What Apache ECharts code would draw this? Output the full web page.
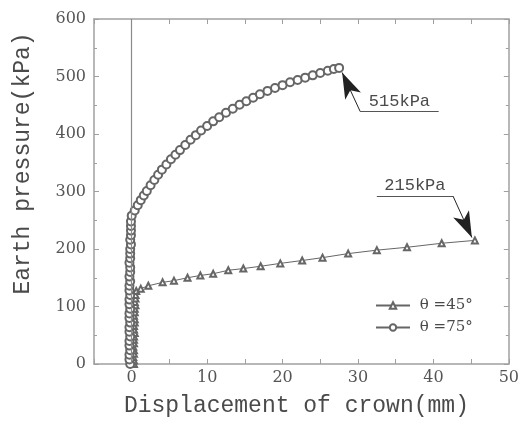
<!DOCTYPE html>
<html>
<head>
<meta charset="utf-8">
<script src="https://cdn.jsdelivr.net/npm/echarts@6/dist/echarts.min.js"></script>
<style>
html,body{margin:0;padding:0;background:#fff;}
#chart{width:522px;height:429px;}
</style>
</head>
<body>
<div id="chart"></div>
<script>
// theta = 45 deg (triangles)
var x45 = [0.3,0.3,0.2,0.3,0.3,0.2,0.3,0.3,0.3,0.4,0.3,0.3,0.4,0.4,0.3,0.4,0.4,0.5,0.4,0.5,0.5,0.6,
           1.2,2.2,4.1,5.6,7.4,9.1,10.8,12.8,14.8,17.1,19.7,22.6,25.3,28.7,32.5,36.5,41.1,45.5];
var y45 = [0,6,12,18,24,30,36,42,48,54,60,66,72,78,84,90,96,102,108,114,120,127,
           131,136,142,145,150,154,157,163,166,170,175,180,185,192,198,203,210,215];
// theta = 75 deg (circles)
var x75 = [-0.2,-0.3,-0.3,-0.2,-0.3,-0.3,-0.2,-0.3,-0.3,-0.2,-0.3,-0.3,-0.2,-0.3,-0.3,-0.2,-0.3,
           -0.3,-0.2,-0.3,-0.2,-0.2,-0.3,-0.2,-0.2,-0.2,-0.1,-0.2,-0.1,-0.1,-0.1,-0.1,0,
           0.4,0.8,1.2,1.6,2.0,2.5,3.0,3.5,4.0,4.6,5.2,5.8,6.4,7.1,7.8,8.5,9.2,10.0,10.8,11.6,
           12.5,13.4,14.3,15.2,16.1,17.0,18.0,19.0,20.0,21.0,22.0,23.0,24.0,25.0,26.0,26.8,27.5];
var y75 = [0,8,16,24,32,40,48,56,64,72,80,88,96,104,112,120,128,136,144,152,160,168,176,184,
           192,200,208,216,224,232,240,248,258,
           267,276,285,293,301,311,320,329,338,347,356,364,372,381,390,398,406,414,422,429,
           437,444,451,457,463,469,475,480,485,490,494,498,502,506,510,513,515];
var names = ['θ =45°', 'θ =75°'];
var xTicks = [-5, 50];
var yTicks = [0, 600];

function pairs(xs, ys) {
    var out = [];
    for (var i = 0; i < xs.length; i++) out.push([xs[i], ys[i]]);
    return out;
}

var peak45 = Math.max.apply(null, y45);
var peak75 = Math.max.apply(null, y75);

var grey = '#a0a0a0';
var ink = '#4a4a4a';
var mark = '#666';
var monoFont = 'Liberation Mono';
var serifFont = 'DejaVu Serif';

var axisCommon = {
    type: 'value',
    axisLine: {show: true, onZero: false, lineStyle: {color: grey, width: 1.5}},
    axisTick: {show: true, inside: true, length: 5, lineStyle: {color: grey}},
    splitLine: {show: false}
};

var myChart = echarts.init(document.getElementById('chart'));
var option = {
    animation: false,
    backgroundColor: '#fff',
    grid: {left: 94, right: 13, top: 19, bottom: 65},
    legend: {
        orient: 'vertical',
        left: 370,
        top: 293,
        itemWidth: 34,
        itemHeight: 8,
        itemGap: 7,
        data: names,
        formatter: function (n) { return ' ' + n; },
        textStyle: {fontFamily: serifFont, fontSize: 15, color: ink}
    },
    xAxis: [
        Object.assign({}, axisCommon, {
            position: 'bottom',
            min: xTicks[0], max: xTicks[1], interval: 5,
            axisLabel: {
                color: '#555', fontFamily: serifFont, fontSize: 16, margin: 6,
                formatter: function (v) { return v % 10 === 0 ? v : ''; }
            },
            name: 'Displacement of crown(mm)',
            nameLocation: 'middle',
            nameGap: 30,
            nameTextStyle: {fontFamily: monoFont, fontSize: 23, color: ink, padding: [0, 10, 0, 0]}
        }),
        Object.assign({}, axisCommon, {
            position: 'top',
            min: xTicks[0], max: xTicks[1], interval: 5,
            axisLabel: {show: false}
        })
    ],
    yAxis: [
        Object.assign({}, axisCommon, {
            position: 'left',
            min: yTicks[0], max: yTicks[1], interval: 100,
            minorTick: {show: true, splitNumber: 2, length: 3, lineStyle: {color: grey}},
            axisLabel: {color: '#555', fontFamily: serifFont, fontSize: 16, margin: 8},
            name: 'Earth pressure(kPa)',
            nameLocation: 'middle',
            nameGap: 60,
            nameTextStyle: {fontFamily: monoFont, fontSize: 23, color: ink, padding: [0, 0, 0, 56]}
        }),
        Object.assign({}, axisCommon, {
            position: 'right',
            min: yTicks[0], max: yTicks[1], interval: 100,
            minorTick: {show: true, splitNumber: 2, length: 3, lineStyle: {color: grey}},
            axisLabel: {show: false}
        })
    ],
    series: [
        {
            name: names[0],
            type: 'line',
            data: pairs(x45, y45),
            symbol: 'emptyTriangle',
            symbolSize: 6,
            showAllSymbol: true,
            color: mark,
            lineStyle: {color: mark, width: 1},
            itemStyle: {color: mark, borderWidth: 0.8},
            markLine: {
                silent: true,
                symbol: 'none',
                lineStyle: {color: '#555', width: 1, type: 'solid'},
                data: [
                    [{coord: [32.5, 292]}, {coord: [42.6, 292]}],
                    [{coord: [42.6, 292], symbol: 'none', lineStyle: {color: '#222'}},
                     {coord: [45.1, 220], symbol: 'arrow', symbolSize: [13, 26]}]
                ],
                label: {show: false}
            }
        },
        {
            name: names[1],
            type: 'line',
            data: pairs(x75, y75),
            symbol: 'emptyCircle',
            symbolSize: 8,
            showAllSymbol: true,
            color: mark,
            lineStyle: {color: mark, width: 1},
            itemStyle: {color: mark, borderWidth: 0.8},
            markLine: {
                silent: true,
                symbol: 'none',
                lineStyle: {color: '#555', width: 1, type: 'solid'},
                label: {show: false},
                data: [
                    [{coord: [0, 0], lineStyle: {color: '#8a8a8a', width: 1.2}}, {coord: [0, 600]}],
                    [{coord: [30.3, 439]}, {coord: [40.7, 439]}],
                    [{coord: [30.3, 439], symbol: 'none', lineStyle: {color: '#222'}},
                     {coord: [27.9, 507], symbol: 'arrow', symbolSize: [13, 26]}]
                ]
            }
        }
    ]
};
myChart.setOption(option);

// labels above the underlines, placed through the chart's own scale
function placeLabel(text, x0, x1, y) {
    var p0 = myChart.convertToPixel({gridIndex: 0}, [x0, y]);
    var p1 = myChart.convertToPixel({gridIndex: 0}, [x1, y]);
    return {
        type: 'text',
        x: (p0[0] + p1[0]) / 2,
        y: p0[1] - 2,
        style: {
            text: text, align: 'center', verticalAlign: 'bottom',
            fontFamily: monoFont, fontSize: 17, fill: ink
        }
    };
}
myChart.setOption({
    graphic: [
        placeLabel(peak75 + 'kPa', 30.3, 40.7, 439),
        placeLabel(peak45 + 'kPa', 32.5, 42.6, 292)
    ]
});
</script>
</body>
</html>
